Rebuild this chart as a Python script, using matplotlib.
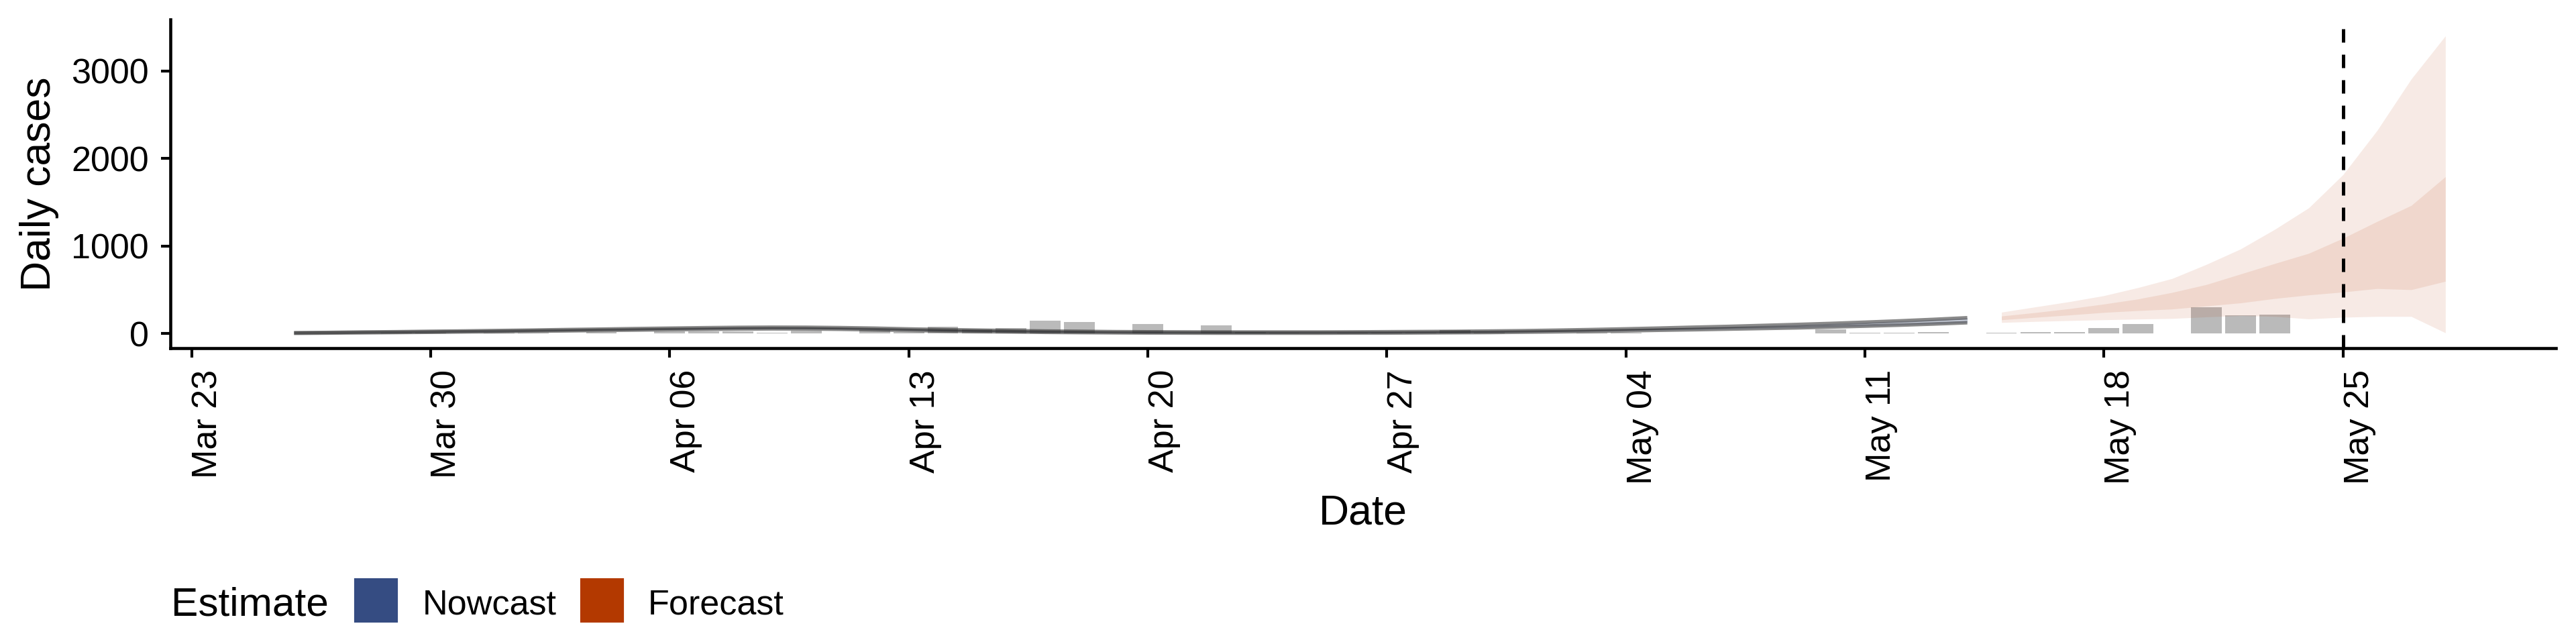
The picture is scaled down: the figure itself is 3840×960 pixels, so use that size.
import numpy as np
import pandas as pd
import matplotlib
matplotlib.use('Agg')
import matplotlib.pyplot as plt
import matplotlib.dates as mdates
from matplotlib.patches import Rectangle

plt.rcParams['font.family'] = ['Liberation Sans', 'DejaVu Sans']

# Reported daily cases (Mar 26 - May 23)
case_start = '2020-03-26'
cases = [2, 5, 3, 8, 6, 2, 10, 12, 3, 15,
         2, 25, 21, 21, 9, 30, 3, 37, 20, 80,
         45, 65, 149, 134, 0, 111, 0, 96, 19, 9,
         5, 12, 6, 10, 41, 8, 4, 5, 9, 6,
         3, 0, 0, 2, 0, 51, 9, 9, 18, 3,
         12, 19, 19, 65, 111, 0, 303, 211, 218]

# Nowcast credible interval (Mar 26 - May 14)
est_start = '2020-03-26'
est_upper = [9, 12, 17, 20, 25, 29, 34, 39, 45, 50,
             56, 61, 66, 70, 72, 71, 67, 61, 52, 45,
             39, 33, 28, 25, 21, 19, 18, 17, 17, 17,
             17, 18, 20, 22, 24, 28, 32, 38, 45, 53,
             62, 72, 81, 92, 103, 115, 129, 144, 161, 180]
est_lower = [3, 6, 9, 12, 15, 19, 22, 27, 31, 36,
             40, 45, 48, 52, 54, 53, 49, 43, 36, 29,
             23, 19, 14, 11, 9, 7, 6, 5, 5, 5,
             5, 6, 6, 8, 10, 12, 16, 20, 25, 31,
             38, 44, 51, 58, 65, 75, 85, 96, 109, 124]

# Forecast credible intervals (May 15 - May 28)
fc_start = '2020-05-15'
fc_outer_hi = [244, 305, 365, 433, 525, 629, 790, 966, 1190, 1437, 1815, 2321, 2909, 3402]
fc_inner_hi = [200, 240, 285, 337, 395, 470, 560, 680, 800, 917, 1089, 1281, 1464, 1793]
fc_inner_lo = [157, 185, 212, 241, 262, 280, 315, 350, 400, 441, 474, 514, 501, 597]
fc_outer_lo = [126, 138, 148, 157, 165, 172, 190, 205, 195, 167, 186, 195, 195, 8]

forecast_date = '2020-05-25'
xtick_dates = pd.date_range('2020-03-23', '2020-05-25', freq='7D')
yticks = [0, 1000, 2000, 3000]

nowcast_col = '#354c82'
forecast_col = '#b33900'

case_dates = pd.date_range(case_start, periods=len(cases))
est_dates = pd.date_range(est_start, periods=len(est_upper))
fc_dates = pd.date_range(fc_start, periods=len(fc_outer_hi))

fig = plt.figure(figsize=(12.8, 3.2), dpi=300)
ax = fig.add_axes([0.0661, 0.4594, 0.926, 0.5104])

ax.bar(case_dates, cases, width=0.9, color='#bababa', zorder=1)

ax.fill_between(est_dates, est_lower, est_upper, color=nowcast_col, alpha=0.25, lw=0, zorder=2)
for bound in (est_upper, est_lower):
    ax.plot(est_dates, bound, color='#2a2a2a', alpha=0.55, lw=1.3,
            solid_capstyle='butt', zorder=3)

ax.fill_between(fc_dates, fc_outer_lo, fc_outer_hi, color=forecast_col, alpha=0.1, lw=0, zorder=2)
ax.fill_between(fc_dates, fc_inner_lo, fc_inner_hi, color=forecast_col, alpha=0.1, lw=0, zorder=2)

ax.axvline(pd.Timestamp(forecast_date), color='black', lw=1.2, ls=(0, (4, 3.6)), zorder=4)

ax.set_xlim(pd.Timestamp('2020-03-23') - pd.Timedelta(hours=15),
            pd.Timestamp('2020-05-31') + pd.Timedelta(hours=5.5))
ax.set_ylim(-167, 3590)

ax.set_xticks(xtick_dates)
ax.xaxis.set_major_formatter(mdates.DateFormatter('%b %d'))
ax.set_yticks(yticks)
ax.tick_params(axis='x', labelrotation=90)
ax.tick_params(length=3.4, width=1.0, pad=4.3, labelsize=12.5, colors='black')
for lab in ax.get_xticklabels():
    lab.set_ha('left')

for s in ('top', 'right'):
    ax.spines[s].set_visible(False)
for s in ('left', 'bottom'):
    ax.spines[s].set_linewidth(1.1)

ax.set_ylabel('Daily cases', fontsize=15)
ax.yaxis.set_label_coords(-0.0467, 0.5)
ax.set_xlabel('Date', fontsize=15)
ax.xaxis.set_label_coords(0.5, -0.441)

# legend along the bottom
fig.text(255 / 3840, 1 - 917 / 960, 'Estimate', fontsize=14.5, va='baseline', ha='left')
fig.patches.append(Rectangle((530 / 3840, 34 / 960), 61 / 3840, 62 / 960,
                             transform=fig.transFigure, color=nowcast_col, figure=fig))
fig.text(630 / 3840, 1 - 915 / 960, 'Nowcast', fontsize=12.5, va='baseline', ha='left')
fig.patches.append(Rectangle((867 / 3840, 34 / 960), 61 / 3840, 62 / 960,
                             transform=fig.transFigure, color=forecast_col, figure=fig))
fig.text(966 / 3840, 1 - 915 / 960, 'Forecast', fontsize=12.5, va='baseline', ha='left')

fig.savefig('out.png', dpi=300)
